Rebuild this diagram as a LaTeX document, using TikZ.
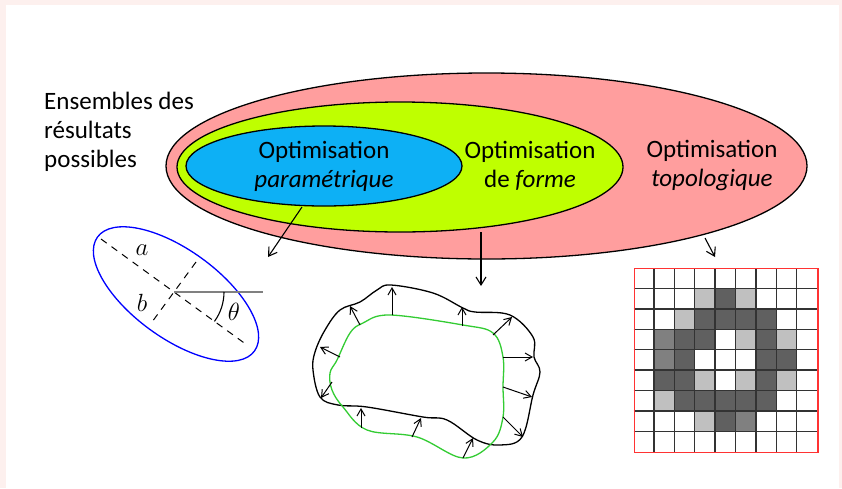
\documentclass[tikz,border=0pt]{standalone}
\usepackage{fontspec}
\setmainfont{Carlito}
\usetikzlibrary{arrows.meta,shapes.geometric}
\definecolor{framepink}{HTML}{FDF0EE}
\definecolor{topopink}{HTML}{FF9E9E}
\definecolor{formelime}{HTML}{BFFF00}
\definecolor{parablue}{HTML}{0DB0F5}
\definecolor{shapegreen}{HTML}{33CC33}
\definecolor{celldark}{HTML}{606060}
\definecolor{cellmid}{HTML}{808080}
\definecolor{celllight}{HTML}{C0C0C0}
\tikzset{
  setell/.style={ellipse, draw=black, line width=1.3pt, inner sep=0pt},
  lbl/.style={font=\fontsize{25}{29}\selectfont, align=center, inner sep=0pt},
  arr/.style={-{Straight Barb[length=8pt,width=10pt]}, line width=1.1pt},
  sarr/.style={-{Straight Barb[length=7pt,width=8pt]}, line width=1pt},
  mathlbl/.style={font=\fontsize{24}{24}\selectfont, inner sep=0pt},
}
\begin{document}
\begin{tikzpicture}[x=1pt,y=-1pt]
\fill[framepink] (0,0) rectangle (842,488);
\fill[white] (6,5) rectangle (839,488);
\useasboundingbox (0,0) rectangle (842,488);

% nested sets
\node[setell, fill=topopink, minimum width=641pt, minimum height=186pt] (topo) at (486.5,166) {};
\node[setell, fill=formelime, minimum width=446pt, minimum height=130pt] (forme) at (400,167) {};
\node[setell, fill=parablue, minimum width=276pt, minimum height=80pt] (para) at (324,166) {};

\node[lbl] (tpara) at (324,166) {Optimisation\\\textit{paramétrique}};
\node[lbl] (tforme) at (530,166) {Optimisation\\de \textit{forme}};
\node[lbl] (ttopo) at (712,165) {Optimisation\\\textit{topologique}};
\node[lbl, align=left, anchor=west] (tens) at (44,132) {Ensembles des\\résultats\\possibles};

% arrows from sets
\coordinate (pstart) at (302,207);
\coordinate (pend) at (268,257);
\coordinate (fstart) at (481,232);
\coordinate (fend) at (481,286);
\coordinate (tstart) at (705,238);
\coordinate (tend) at (715,257);
\draw[arr] (pstart) -- (pend);
\draw[arr] (fstart) -- (fend);
\draw[arr] (tstart) -- (tend);

% parametric ellipse
\coordinate (pc) at (174,292);
\coordinate (ec) at (176,294);
\draw[blue, line width=1.3pt, rotate around={-36:(ec)}] (ec) ellipse [x radius=97pt, y radius=44pt];
\coordinate (ma1) at (101,239);
\coordinate (ma2) at (247,345);
\coordinate (mi1) at (196,262);
\coordinate (mi2) at (152,322);
\draw[line width=1pt, dash pattern=on 7pt off 6pt] (ma1) -- (ma2);
\draw[line width=1pt, dash pattern=on 7pt off 6pt] (mi1) -- (mi2);
\coordinate (hz) at (263,292);
\draw[gray, line width=1.2pt] (pc) -- (hz);
\draw[line width=1.1pt] (224,292) arc[start angle=0, end angle=-36, radius=50pt];
\node[mathlbl] (la) at (142,250) {$a$};
\node[mathlbl] (lb) at (142,303) {$b$};
\node[mathlbl] (lt) at (234,312) {$\theta$};

% shape optimisation
\draw[line width=1.3pt, black] plot[smooth cycle, tension=0.6] coordinates {
 (391,285) (433,293) (463,308) (475,312) (510,315) (533,337) (534,357) (540,372)
 (533,395) (522,437) (500,445) (477,440) (447,420) (423,417) (367,407) (338,405)
 (320,397) (313,370) (315,352) (325,330) (340,310) (360,302) (377,290)};
\draw[line width=1.3pt, shapegreen] plot[smooth cycle, tension=0.6] coordinates {
 (390,315) (463,325) (493,333) (503,357) (503,387) (503,417) (493,442) (463,458)
 (417,437) (367,430) (343,407) (332,390) (330,373) (337,360) (350,333) (363,323)};
\foreach \sx/\sy/\ex/\ey [count=\i] in {
 392/315/392/287, 360/325/350/306, 340/357/320/347, 332/382/321/398,
 361/428/361/408, 412/437/421/418, 463/458/473/438, 462/326/462/307,
 493/335/512/317, 503/357/533/357, 503/387/532/397, 503/417/523/437}{
  \coordinate (s\i) at (\sx,\sy);
  \coordinate (e\i) at (\ex,\ey);
  \draw[sarr] (s\i) -- (e\i);
}

% topology grid
\def\gx{633.5}\def\gy{268}\def\gc{20.4}
\foreach \r/\c/\col in {
 1/3/celllight,1/4/celldark,1/5/celllight,
 2/2/celllight,2/3/celldark,2/4/celldark,2/5/celldark,2/6/celldark,
 3/1/cellmid,3/2/celldark,3/3/celldark,3/5/celllight,3/6/celldark,3/7/celllight,
 4/1/cellmid,4/2/celldark,4/6/celldark,4/7/celldark,
 5/1/celldark,5/2/celldark,5/3/celllight,5/5/celllight,5/6/celldark,5/7/celllight,
 6/1/celllight,6/2/celldark,6/3/celldark,6/4/celldark,6/5/celldark,6/6/celldark,
 7/3/celllight,7/4/celldark,7/5/cellmid}{
  \fill[\col] ({\gx+\c*\gc},{\gy+\r*\gc}) rectangle ({\gx+(\c+1)*\gc},{\gy+(\r+1)*\gc});
}
\foreach \k in {1,...,8}{
  \draw[line width=1.4pt, black!80] ({\gx+\k*\gc},\gy) -- ({\gx+\k*\gc},{\gy+9*\gc});
  \draw[line width=1.4pt, black!80] (\gx,{\gy+\k*\gc}) -- ({\gx+9*\gc},{\gy+\k*\gc});
}
\node[draw=red!80, line width=1.4pt, minimum width=183.6pt, minimum height=183.6pt, inner sep=0pt, anchor=north west] (grid) at (\gx,\gy) {};
\end{tikzpicture}
\end{document}
